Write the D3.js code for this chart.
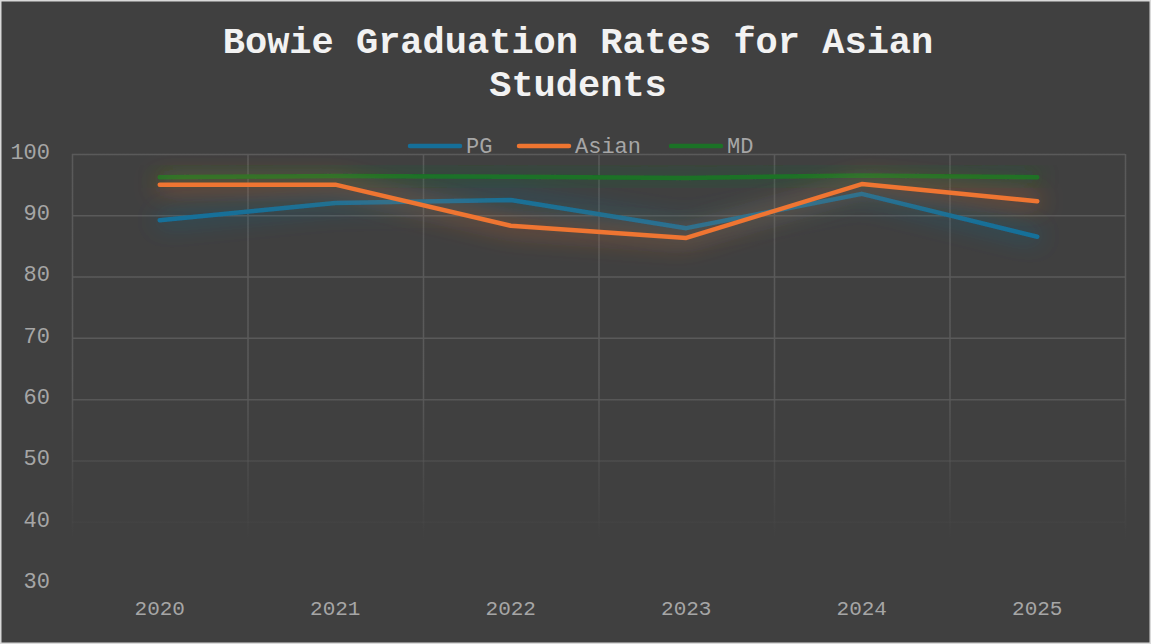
<!DOCTYPE html>
<html>
<head>
<meta charset="utf-8">
<script src="https://cdn.jsdelivr.net/npm/d3@7"></script>
<style>
  body { margin: 0; background: #404040; }
  svg { display: block; }
  text { font-family: "Liberation Mono", "Courier New", monospace; }
</style>
</head>
<body>
<div id="chart"></div>
<script>

var years = ["2020", "2021", "2022", "2023", "2024", "2025"];
var pgRates = [89.2, 92.0, 92.5, 87.9, 93.5, 86.5];
var asianRates = [95.0, 95.0, 88.3, 86.3, 95.1, 92.3];
var mdRates = [96.2, 96.4, 96.3, 96.1, 96.5, 96.2];
var yTicks = [30, 40, 50, 60, 70, 80, 90, 100];

var seriesNames = ["PG", "Asian", "MD"];
var seriesColors = ["#156f99", "#ef7530", "#1b7226"];

var width = 1151, height = 644;
var margin = { left: 72, right: 26, top: 154, bottom: 61 };

var svg = d3.select("#chart").append("svg")
    .attr("width", width)
    .attr("height", height);

// outer frame
svg.append("rect")
    .attr("x", 0.5).attr("y", 0.5)
    .attr("width", width - 1).attr("height", height - 1)
    .attr("fill", "#404040")
    .attr("stroke", "#d9d9d9")
    .attr("stroke-width", 2);

var defs = svg.append("defs");

// gridlines fade out toward the bottom
var fade = defs.append("linearGradient")
    .attr("id", "gridFade")
    .attr("gradientUnits", "userSpaceOnUse")
    .attr("x1", 0).attr("y1", 0).attr("x2", 0).attr("y2", height);
fade.append("stop").attr("offset", 380 / height).attr("stop-color", "#5a5a5a").attr("stop-opacity", 1);
fade.append("stop").attr("offset", 540 / height).attr("stop-color", "#5a5a5a").attr("stop-opacity", 0);

var glow = defs.append("filter")
    .attr("id", "glow")
    .attr("x", "-20%").attr("y", "-400%")
    .attr("width", "140%").attr("height", "900%");
glow.append("feGaussianBlur").attr("in", "SourceGraphic").attr("stdDeviation", 12).attr("result", "blur");
glow.append("feComponentTransfer").attr("in", "blur").attr("result", "soft")
    .append("feFuncA").attr("type", "linear").attr("slope", 1.0);
var merge = glow.append("feMerge");
merge.append("feMergeNode").attr("in", "soft");
merge.append("feMergeNode").attr("in", "SourceGraphic");

var innerW = width - margin.left - margin.right;
var innerH = height - margin.top - margin.bottom;

var xScale = d3.scaleBand()
    .domain(years)
    .range([margin.left, margin.left + innerW]);

var yScale = d3.scaleLinear()
    .domain([30, 100])
    .range([margin.top + innerH, margin.top]);

// title
var title = svg.append("text")
    .attr("x", 578)
    .attr("y", 53)
    .attr("text-anchor", "middle")
    .attr("fill", "#f2f2f2")
    .style("font-size", "37px")
    .style("font-weight", "bold");
title.append("tspan").attr("x", 578).text("Bowie Graduation Rates for Asian");
title.append("tspan").attr("x", 578).attr("dy", 43).text("Students");

// horizontal gridlines
svg.append("g")
    .selectAll("line")
    .data(yTicks)
    .enter()
    .append("line")
    .attr("x1", margin.left)
    .attr("x2", margin.left + innerW)
    .attr("y1", function(d){ return yScale(d) + 0.5 })
    .attr("y2", function(d){ return yScale(d) + 0.5 + 0.01 })
    .attr("stroke", "url(#gridFade)")
    .attr("stroke-width", 1.5);

// vertical gridlines (category boundaries)
var bounds = years.map(function(d){ return xScale(d) }).concat([margin.left + innerW]);
svg.append("g")
    .selectAll("line")
    .data(bounds)
    .enter()
    .append("line")
    .attr("x1", function(d){ return d + 0.5 })
    .attr("x2", function(d){ return d + 0.51 })
    .attr("y1", margin.top)
    .attr("y2", margin.top + innerH)
    .attr("stroke", "url(#gridFade)")
    .attr("stroke-width", 1.5);

// y tick labels
var yAxis = d3.axisLeft(yScale).tickValues(yTicks).tickSize(0).tickPadding(22);
var yg = svg.append("g")
    .attr("transform", "translate(" + margin.left + ",0)")
    .call(yAxis);
yg.select(".domain").remove();
yg.selectAll("text")
    .attr("fill", "#a6a6a6")
    .attr("dy", "0.2em")
    .style("font-size", "22px")
    .style("font-family", "Liberation Mono, monospace");

// x tick labels
var xAxis = d3.axisBottom(xScale).tickSize(0).tickPadding(17);
var xg = svg.append("g")
    .attr("transform", "translate(0," + (margin.top + innerH) + ")")
    .call(xAxis);
xg.select(".domain").remove();
xg.selectAll("text")
    .attr("fill", "#a6a6a6")
    .style("font-size", "21px")
    .style("font-family", "Liberation Mono, monospace");

// lines
var allSeries = [pgRates, asianRates, mdRates];

var line = d3.line()
    .x(function(d, i){ return xScale(years[i]) + xScale.bandwidth() / 2 })
    .y(function(d){ return yScale(d) });

var drawOrder = [2, 0, 1];
svg.append("g")
    .selectAll("path")
    .data(drawOrder)
    .enter()
    .append("path")
    .attr("d", function(k){ return line(allSeries[k]) })
    .attr("fill", "none")
    .attr("stroke", function(k){ return seriesColors[k] })
    .attr("stroke-width", 4.5)
    .attr("stroke-linejoin", "round")
    .attr("stroke-linecap", "round")
    .attr("filter", "url(#glow)");

// legend
var legendX = [408, 517, 669];
var legend = svg.append("g")
    .selectAll("g")
    .data(seriesNames)
    .enter()
    .append("g")
    .attr("transform", function(d, i){ return "translate(" + legendX[i] + ",146)" });

legend.append("line")
    .attr("x1", 2).attr("x2", 52)
    .attr("y1", 0).attr("y2", 0)
    .attr("stroke", function(d, i){ return seriesColors[i] })
    .attr("stroke-width", 4.5)
    .attr("stroke-linecap", "round");

legend.append("text")
    .attr("x", 58)
    .attr("y", 7)
    .attr("fill", "#a6a6a6")
    .style("font-size", "22px")
    .text(function(d){ return d });

</script>
</body>
</html>
